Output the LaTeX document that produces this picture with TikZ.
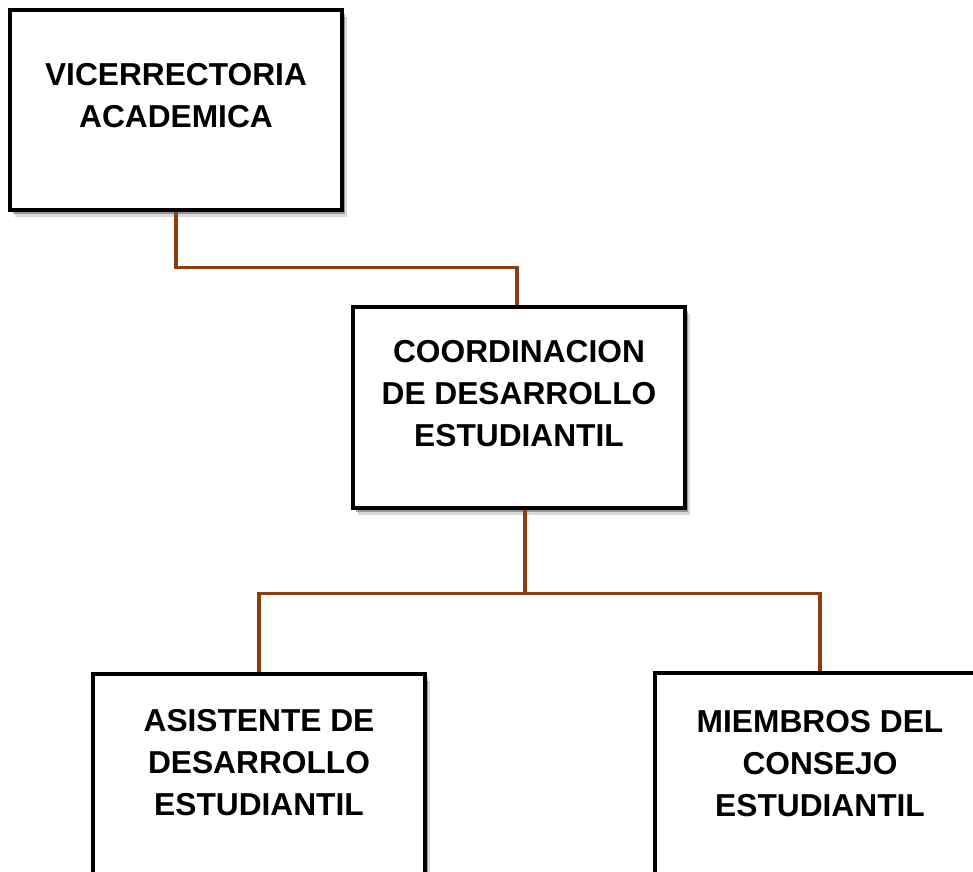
\documentclass[tikz,border=0pt]{standalone}
\usepackage{fontspec}
\setmainfont{Liberation Sans}
\usepackage{tikz}
\usetikzlibrary{calc,positioning,shadows}
\definecolor{linkbrown}{RGB}{139,62,16}
\newcommand{\createlength}[2]{\newlength{#1}\setlength{#1}{#2}}

\begin{document}
\begin{tikzpicture}[x=1pt,y=1pt,
    orgbox/.style={draw=black,line width=3.2pt,fill=white,inner sep=0,
        drop shadow={shadow xshift=5pt,shadow yshift=-7pt,opacity=0.15,fill=black},
        drop shadow={shadow xshift=3pt,shadow yshift=-4pt,opacity=0.3,fill=black}},
    orgtext/.style={inner sep=0,align=center,
        font=\fontsize{31.7}{42}\selectfont\bfseries},
    link/.style={linkbrown,line width=3.6pt}]
\createlength{\boxwidth}{332pt}
\useasboundingbox (0,0) rectangle (973,871);
%%%%%%%%%%%%%%%%%%%%%%%%%%%%
%%%%%%%%% Level 0. %%%%%%%%%
%%%%%%%%%%%%%%%%%%%%%%%%%%%%
\node[orgbox,minimum width=\boxwidth,minimum height=200pt] (vice) at (176,761) {};
\node[orgtext,below=55pt of vice.north] (vicetxt) {VICERRECTORIA\\ACADEMICA};
%%%%%%%%%%%%%%%%%%%%%%%%%%%%
%%%%%%%%% Level 1. %%%%%%%%%
%%%%%%%%%%%%%%%%%%%%%%%%%%%%
\node[orgbox,minimum width=\boxwidth,minimum height=201pt] (coord) at (519,463.5) {};
\node[orgtext,below=35pt of coord.north] (coordtxt) {COORDINACION\\DE DESARROLLO\\ESTUDIANTIL};
\draw[link] (vice.south) -- ++(0,-56) -| ([xshift=-2pt]coord.north);
%%%%%%%%%%%%%%%%%%%%%%%%%%%%
%%%%%%%%% Level 2. %%%%%%%%%
%%%%%%%%%%%%%%%%%%%%%%%%%%%%
\node[orgbox,minimum width=\boxwidth,minimum height=327pt] (asis) at (259,33.5) {};
\node[orgtext,below=37pt of asis.north] (asistxt) {ASISTENTE DE\\DESARROLLO\\ESTUDIANTIL};
\node[orgbox,minimum width=330pt,minimum height=327pt] (miem) at (820,34.5) {};
\node[orgtext,below=39pt of miem.north] (miemtxt) {MIEMBROS DEL\\CONSEJO\\ESTUDIANTIL};
\draw[link] ([xshift=6pt]coord.south) -- ++(0,-84) coordinate (split);
\draw[link] (asis.north) |- (split) -| (miem.north);
\end{tikzpicture}
\end{document}
